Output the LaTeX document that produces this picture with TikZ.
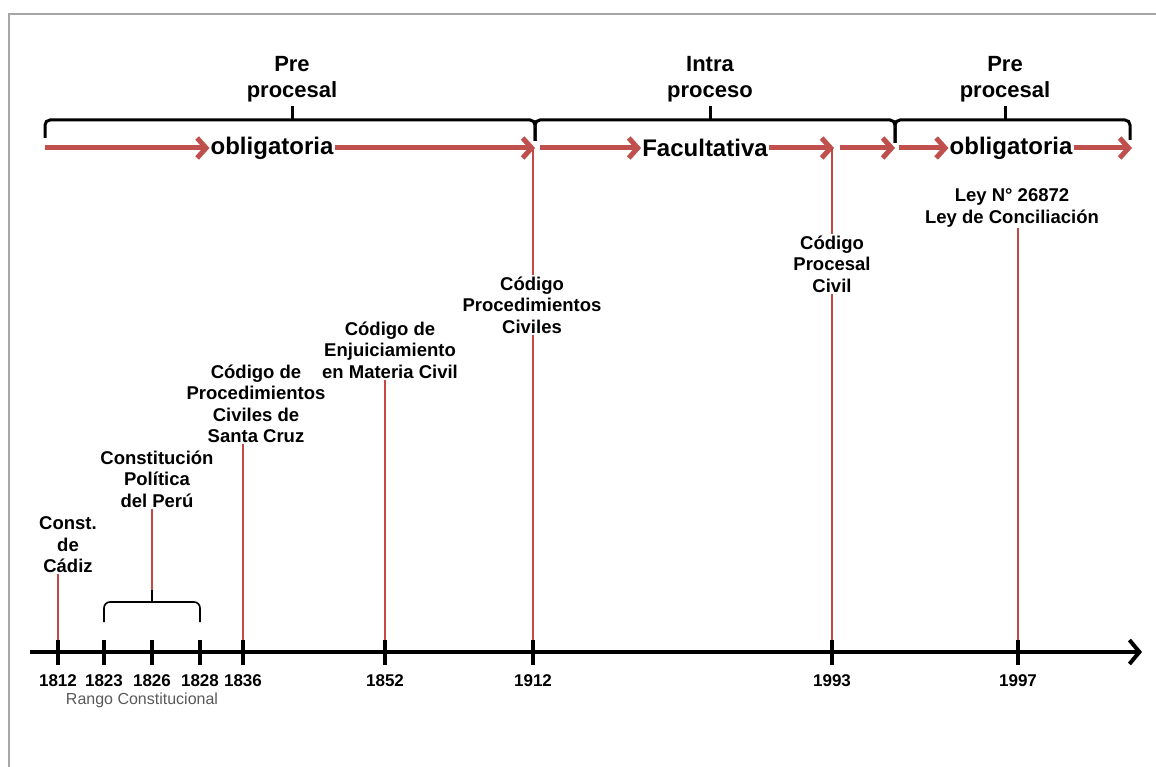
\documentclass[tikz,border=0pt]{standalone}
\usepackage{fontspec}
\setmainfont{Liberation Sans}
\usetikzlibrary{positioning,arrows.meta}
\definecolor{rojo}{HTML}{C0504D}

\begin{document}
\begin{tikzpicture}[x=1pt, y=-1pt,
    evento/.style={align=center, font=\fontsize{18.5}{21.5}\selectfont\bfseries, inner sep=1pt},
    anio/.style={font=\fontsize{17}{19}\selectfont\bfseries, inner sep=1pt},
    rango/.style={font=\fontsize{16}{18}\selectfont, text=black!65, inner sep=1pt},
    etapa/.style={align=center, font=\fontsize{22}{26}\selectfont\bfseries, inner sep=1pt},
    modo/.style={font=\fontsize{24}{26}\selectfont\bfseries, inner sep=1pt},
    flecha/.style={rojo, line width=5pt, -{Straight Barb[length=9pt, width=20pt]}},
    guia/.style={rojo!90!red, line width=1.2pt},
    llave/.style={black, line width=3pt, rounded corners=5pt},
    llavechica/.style={black, line width=1.6pt, rounded corners=6pt},
    tick/.style={black, line width=3.5pt}]
  \useasboundingbox (0,0) rectangle (1156,767);
  \draw[gray!70, line width=1.5pt] (1156,14) -- (9,14) -- (9,767);

  % braces on top
  \draw[llave] (45,138) -- (45,120) -- (535,120) -- (535,141);
  \draw[llave] (535,141) -- (535,120) -- (895,120) -- (895,143);
  \draw[llave] (895,143) -- (895,120) -- (1130,120) -- (1130,140);
  \coordinate (p1) at (292,106);
  \coordinate (p2) at (710,106);
  \coordinate (p3) at (1005,106);
  \draw[llave] (292,120) -- (p1);
  \draw[llave] (710,120) -- (p2);
  \draw[llave] (1005,120) -- (p3);
  \node[etapa, above=3pt of p1] (pre1) {Pre\\procesal};
  \node[etapa, above=3pt of p2] (intra) {Intra\\proceso};
  \node[etapa, above=3pt of p3] (pre2) {Pre\\procesal};

  % red arrows
  \node[modo] (obl1) at (272,148) {obligatoria};
  \node[modo] (fac) at (705,148) {Facultativa};
  \node[modo] (obl2) at (1011,148) {obligatoria};
  \coordinate (f0) at (45,148);
  \coordinate (f1) at (535,148);
  \coordinate (f2) at (540,148);
  \coordinate (f3) at (834,148);
  \coordinate (f4) at (840,148);
  \coordinate (f5) at (895,148);
  \coordinate (f6) at (899,148);
  \coordinate (f7) at (1132,148);
  \draw[flecha] (f0) -- (obl1);
  \draw[flecha] (obl1) -- (f1);
  \draw[flecha] (f2) -- (fac);
  \draw[flecha] (fac) -- (f3);
  \draw[flecha] (f4) -- (f5);
  \draw[flecha] (f6) -- (obl2);
  \draw[flecha] (obl2) -- (f7);

  % events
  \node[evento] (cadiz) at (68,545) {Const.\\de\\Cádiz};
  \node[evento] (peru) at (157,479) {Constitución\\Política\\del Perú};
  \node[evento] (santacruz) at (256,404) {Código de\\Procedimientos\\Civiles de\\Santa Cruz};
  \node[evento] (enjui) at (390,350) {Código de\\Enjuiciamiento\\en Materia Civil};
  \node[evento] (proc1912) at (532,305) {Código\\Procedimientos\\Civiles};
  \node[evento] (cpc) at (832,264) {Código\\Procesal\\Civil};
  \node[evento] (ley) at (1012,208) {Ley N° 26872\\Ley de Conciliación};

  \foreach \x/\a in {58/1812, 104/1823, 152/1826, 200/1828, 243/1836,
                     385/1852, 533/1912, 832/1993, 1018/1997}
    \coordinate (t\a) at (\x,652);

  % small brace 1823-1828
  \draw[llavechica] (104,622) -- (104,602) -- (200,602) -- (200,622);
  \coordinate (pico) at (152,590);
  \draw[llavechica] (152,602) -- (pico);

  % guides
  \draw[guia] (t1812 |- cadiz.south) -- (t1812);
  \draw[guia] (peru.south -| pico) -- (pico);
  \draw[guia] (t1836 |- santacruz.south) -- (t1836);
  \draw[guia] (t1852 |- enjui.south) -- (t1852);
  \draw[guia] (t1912 |- f1) -- (t1912 |- proc1912.north);
  \draw[guia] (t1912 |- proc1912.south) -- (t1912);
  \draw[guia] (t1993 |- f3) -- (t1993 |- cpc.north);
  \draw[guia] (t1993 |- cpc.south) -- (t1993);
  \draw[guia] (t1997 |- ley.south) -- (t1997);

  % time axis
  \coordinate (ejeini) at (30,652);
  \coordinate (ejefin) at (1142,652);
  \draw[line width=4pt, -{Straight Barb[length=10pt, width=24pt]}] (ejeini) -- (ejefin);
  \foreach \x/\a in {58/1812, 104/1823, 152/1826, 200/1828, 243/1836,
                     385/1852, 533/1912, 832/1993, 1018/1997} {
    \draw[tick] (\x,640) -- (\x,665);
    \node[anio] (y\a) at (\x,681) {\a};
  }
  \node[rango] (rango) at (142,700) {Rango Constitucional};
\end{tikzpicture}
\end{document}
